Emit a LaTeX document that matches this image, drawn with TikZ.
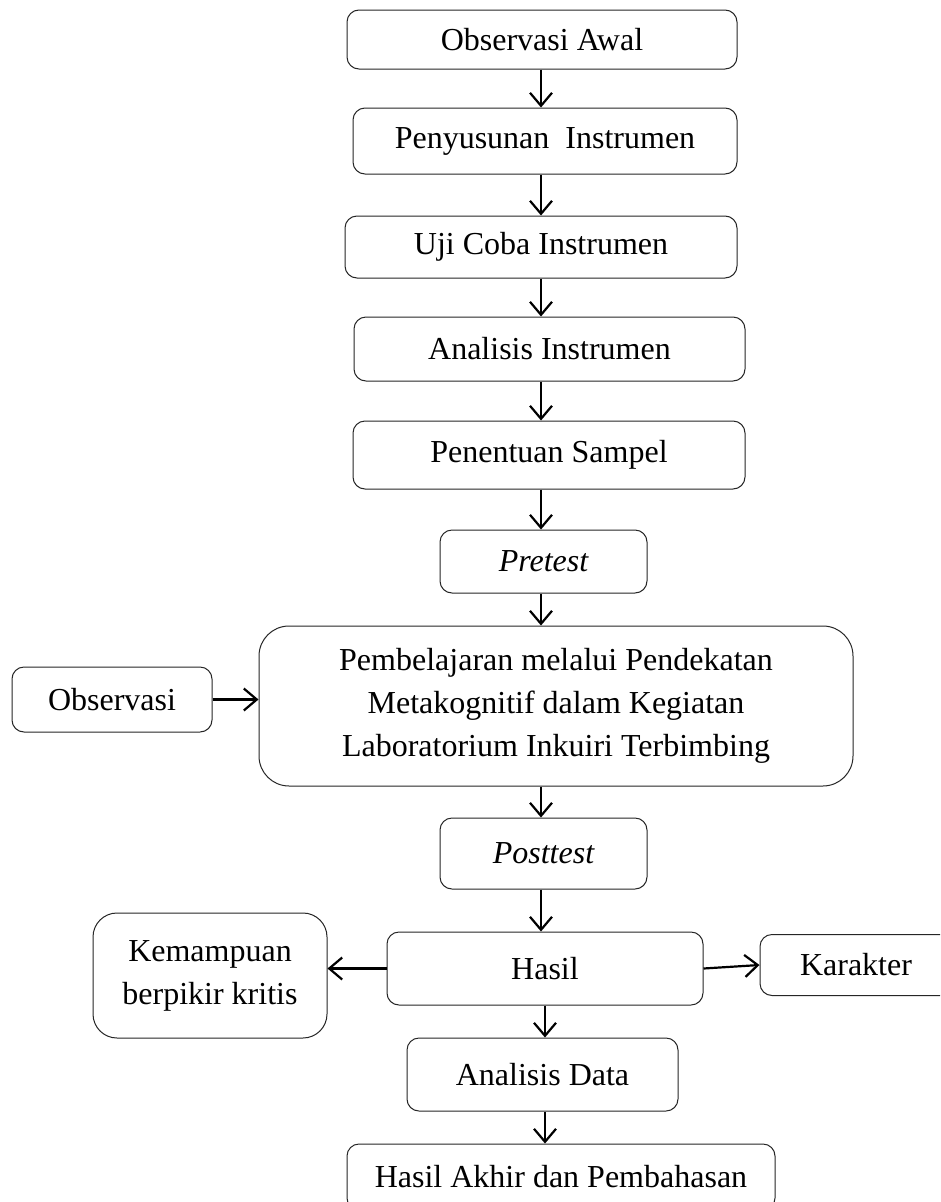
\documentclass[tikz,border=0pt]{standalone}
\usepackage{fontspec}
\setmainfont{Liberation Serif}
\usetikzlibrary{arrows.meta}
\begin{document}
\begin{tikzpicture}[x=1pt,y=-1pt,
  box/.style={draw=black!85, line width=1pt, rounded corners=12pt, inner sep=0pt,
    font=\fontsize{32}{43}\selectfont, align=center},
  arr/.style={line width=2.2pt, -{Straight Barb[length=13pt,width=22pt,line width=2.2pt]}}]
\clip (0,0) rectangle (940,1202);
\fill[white] (0,0) rectangle (940,1202);
% nodes
\node[box, minimum width=390pt, minimum height=59pt] (oa) at (542,39.5) {Observasi Awal};
\node[box, minimum width=384pt, minimum height=66pt] (ps) at (545,141) {Penyusunan~~Instrumen};
\node[box, minimum width=392pt, minimum height=62pt] (uc) at (541,247) {Uji Coba Instrumen};
\node[box, minimum width=391pt, minimum height=64pt] (ai) at (549.5,349) {Analisis Instrumen};
\node[box, minimum width=392pt, minimum height=68pt] (pn) at (549,455) {Penentuan Sampel};
\node[box, minimum width=207pt, minimum height=63pt] (pre) at (543.5,561.5) {\itshape Pretest};
\node[box, rounded corners=30pt, minimum width=594pt, minimum height=160pt] (big) at (556,706)
  {Pembelajaran melalui Pendekatan\\Metakognitif dalam Kegiatan\\Laboratorium Inkuiri Terbimbing};
\node[box, minimum width=200pt, minimum height=65pt] (obs) at (112,699.5) {Observasi};
\node[box, minimum width=207pt, minimum height=71pt] (post) at (543.5,853.5) {\itshape Posttest};
\node[box, minimum width=316pt, minimum height=73pt] (has) at (545,968.5) {Hasil};
\node[box, rounded corners=24pt, minimum width=234pt, minimum height=125pt] (kem) at (210,975.5)
  {Kemampuan\\berpikir kritis};
\node[box, minimum width=192pt, minimum height=61pt] (kar) at (856,965) {Karakter};
\node[box, minimum width=271pt, minimum height=73pt] (ad) at (542.5,1074.5) {Analisis Data};
\node[box, minimum width=428pt, minimum height=66pt] (fin) at (561,1177) {Hasil Akhir dan Pembahasan};
% arrow columns
\coordinate (c1) at (541,0);
\coordinate (c2) at (545,0);
\draw[arr] (oa.south -| c1) -- (ps.north -| c1);
\draw[arr] (ps.south -| c1) -- (uc.north -| c1);
\draw[arr] (uc.south -| c1) -- (ai.north -| c1);
\draw[arr] (ai.south -| c1) -- (pn.north -| c1);
\draw[arr] (pn.south -| c1) -- (pre.north -| c1);
\draw[arr] (pre.south -| c1) -- (big.north -| c1);
\draw[arr] (big.south -| c1) -- (post.north -| c1);
\draw[arr] (post.south -| c1) -- (has.north -| c1);
\draw[arr] (has.south -| c2) -- (ad.north -| c2);
\draw[arr] (ad.south -| c2) -- (fin.north -| c2);
\draw[arr] (obs.east) -- (big.west |- obs.east);
\draw[arr] (has.west) -- (kem.east |- has.west);
\draw[arr] (has.east) -- (kar.west);
\end{tikzpicture}
\end{document}
